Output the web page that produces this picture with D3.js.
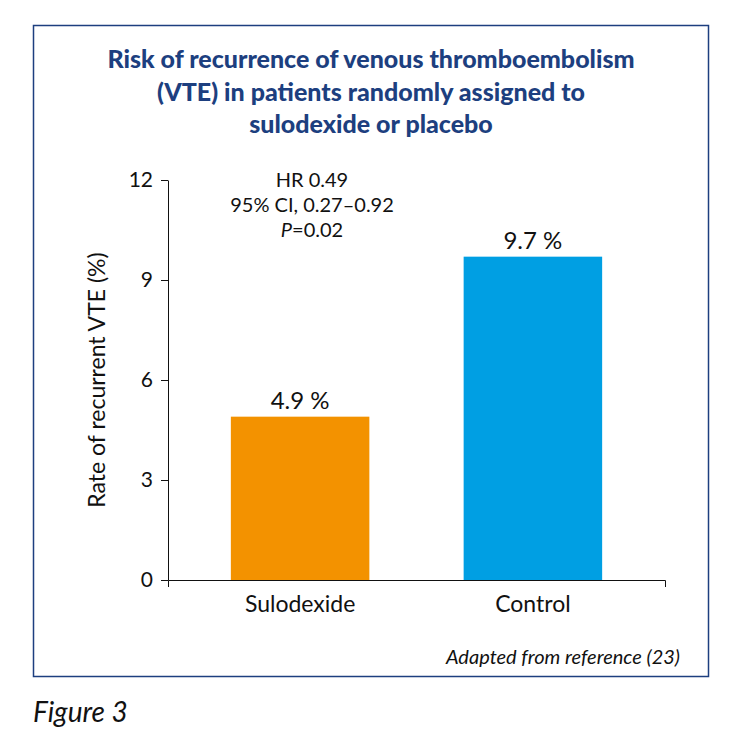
<!DOCTYPE html>
<html>
<head>
<meta charset="utf-8">
<script src="https://cdn.jsdelivr.net/npm/d3@7"></script>
<style>body{margin:0;background:#fff;}</style>
</head>
<body>
<script>
var categories = ["Sulodexide", "Control"];
var rates = [4.9, 9.7];
var colors = ["#f39200", "#009fe3"];
var yTicks = [0, 3, 6, 9, 12];
var titleLines = ["Risk of recurrence of venous thromboembolism", "(VTE) in patients randomly assigned to", "sulodexide or placebo"];

var w = 745, h = 756;
var font = "Lato, 'Open Sans', sans-serif";
var svg = d3.select("body").append("svg").attr("width", w).attr("height", h);

// frame
svg.append("rect").attr("x", 33.5).attr("y", 25.5).attr("width", 675).attr("height", 651)
    .attr("fill", "none").attr("stroke", "#1d3f7f").attr("stroke-width", 1.5);

svg.selectAll("text.title").data(titleLines).enter().append("text")
    .attr("class", "title").text(function(d){ return d; })
    .attr("x", 371).attr("y", function(d, i){ return 68 + i * 32.5; })
    .attr("text-anchor", "middle").attr("font-family", font).attr("font-weight", 900)
    .attr("font-size", "25px").attr("fill", "#1d3f7f");

var y = d3.scaleLinear().domain([0, 12]).range([580, 180]);
var x = d3.scaleBand().domain(categories).range([168, 665]).paddingInner(0.405).paddingOuter(0.27);

var gy = svg.append("g").attr("transform", "translate(168,0)")
    .call(d3.axisLeft(y).tickValues(yTicks).tickSize(7).tickSizeOuter(0).tickPadding(8));
gy.selectAll("text").style("font-family", font).style("font-size", "21px").attr("fill", "#111");
gy.selectAll("line,path").attr("stroke", "#111");

var gx = svg.append("g").attr("transform", "translate(0,580)")
    .call(d3.axisBottom(x).tickSize(0).tickSizeOuter(7));
gx.selectAll("text").style("font-family", font).style("font-size", "23px").attr("fill", "#111").attr("dy", "1.25em");
gx.selectAll("path").attr("stroke", "#111");

svg.selectAll("rect.bar").data(rates).enter().append("rect").attr("class", "bar")
    .attr("x", function(d, i){ return x(categories[i]); })
    .attr("width", x.bandwidth())
    .attr("y", function(d){ return y(d); })
    .attr("height", function(d){ return 580 - y(d); })
    .attr("fill", function(d, i){ return colors[i]; });

svg.selectAll("text.val").data(rates).enter().append("text").attr("class", "val")
    .text(function(d){ return d + " %"; })
    .attr("x", function(d, i){ return x(categories[i]) + x.bandwidth() / 2; })
    .attr("y", function(d){ return y(d) - 8; })
    .attr("text-anchor", "middle").attr("font-family", font).attr("font-size", "24px").attr("fill", "#111");

svg.append("text").text("Rate of recurrent VTE (%)")
    .attr("transform", "translate(105,380) rotate(-90)")
    .attr("text-anchor", "middle").attr("font-family", font).attr("font-size", "23px").attr("fill", "#111");

var ann = svg.append("text").attr("text-anchor", "middle").attr("font-family", font)
    .attr("font-size", "20px").attr("fill", "#111");
ann.append("tspan").attr("x", 312).attr("y", 187).text("HR 0.49");
ann.append("tspan").attr("x", 312).attr("y", 212).text("95% CI, 0.27\u20130.92");
var t3 = ann.append("tspan").attr("x", 312).attr("y", 237);
t3.append("tspan").attr("font-style", "italic").text("P");
t3.append("tspan").text("=0.02");

svg.append("text").text("Adapted from reference (23)")
    .attr("x", 680).attr("y", 664).attr("text-anchor", "end").attr("font-family", font)
    .attr("font-style", "italic").attr("font-size", "20px").attr("fill", "#111");

svg.append("text").text("Figure 3")
    .attr("x", 33).attr("y", 722).attr("font-family", font)
    .attr("font-style", "italic").attr("font-size", "28px").attr("fill", "#111");
</script>
</body>
</html>
